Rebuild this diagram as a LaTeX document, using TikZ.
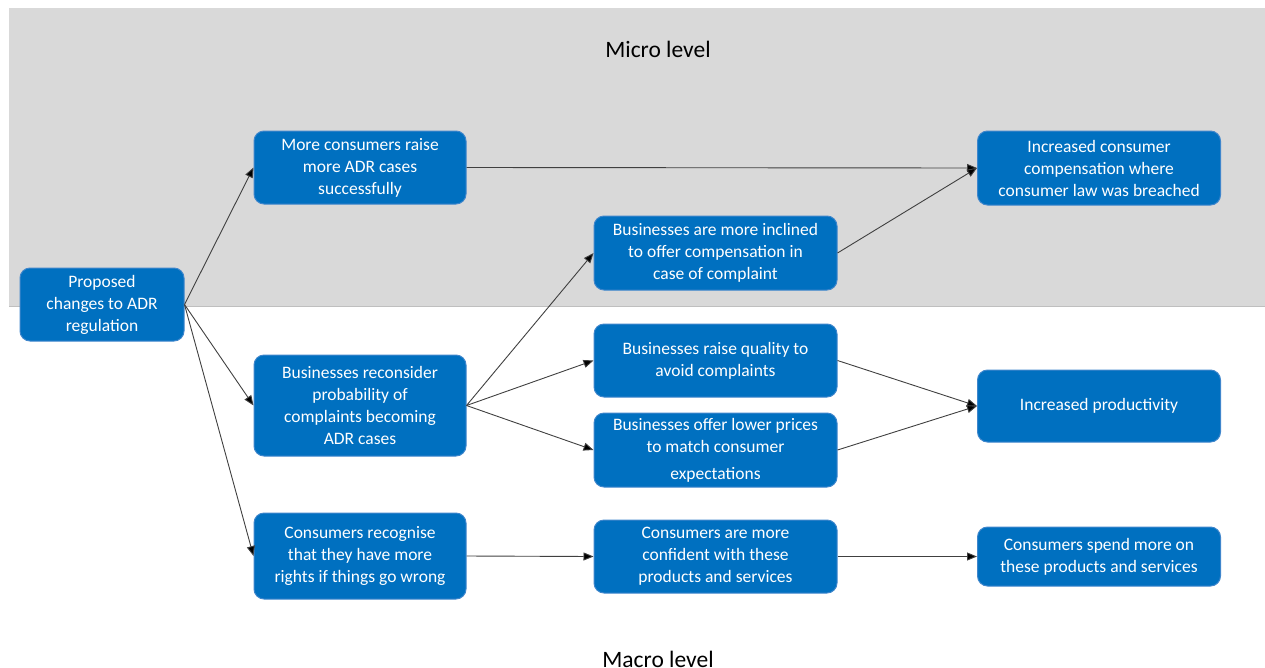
\documentclass[tikz,border=0pt]{standalone}
\usepackage{fontspec}
\setmainfont{Carlito}
\usetikzlibrary{arrows.meta}
\definecolor{boxblue}{HTML}{0070C0}
\definecolor{boxedge}{HTML}{3F86CC}
\definecolor{bggray}{HTML}{D9D9D9}
\definecolor{bgedge}{HTML}{BFBFBF}
\definecolor{linegray}{HTML}{404040}
\tikzset{
  box/.style={draw=boxedge, line width=1pt, fill=boxblue, rounded corners=10pt,
    text=white, align=center, inner sep=0pt,
    font=\fontsize{17.5}{22}\selectfont},
  w212/.style={minimum width=212pt},
  w243/.style={minimum width=243pt},
  w164/.style={minimum width=164pt},
  conn/.style={draw=linegray, line width=0.9pt, -{Triangle[length=10pt,width=8pt,fill=black]}},
  level/.style={font=\fontsize{23.5}{28}\selectfont, text=black}
}
\begin{document}
\begin{tikzpicture}[x=1pt,y=-1pt]
\useasboundingbox (0,0) rectangle (1265,667);
\fill[bggray] (9,8) rectangle (1265,306);
\draw[bgedge, line width=1pt] (9,306) -- (1265,306);
\node[level] (micro) at (658,49) {Micro level};
\node[level] (macro) at (658,659) {Macro level};

\node[box, w164, minimum height=73pt] (A) at (102,304.5) {Proposed\\changes to ADR\\regulation};
\node[box, w212, minimum height=73pt] (B) at (360,167.5) {More consumers raise\\more ADR cases\\successfully};
\node[box, w212, minimum height=101pt] (C) at (360,405.5) {Businesses reconsider\\probability of\\complaints becoming\\ADR cases};
\node[box, w212, minimum height=86pt] (D) at (360,556) {Consumers recognise\\that they have more\\rights if things go wrong};
\node[box, w243, minimum height=74pt] (E) at (715.5,253) {Businesses are more inclined\\to offer compensation in\\case of complaint};
\node[box, w243, minimum height=73pt] (F) at (715.5,360.5) {Businesses raise quality to\\avoid complaints};
\node[box, w243, minimum height=74pt] (G) at (715.5,450) {Businesses offer lower prices\\to match consumer\\[5pt]expectations};
\node[box, w243, minimum height=73pt] (H) at (715.5,556.5) {Consumers are more\\confident with these\\products and services};
\node[box, w243, minimum height=74pt] (I) at (1099,168) {Increased consumer\\compensation where\\consumer law was breached};
\node[box, w243, minimum height=72pt] (J) at (1099,406) {Increased productivity};
\node[box, w243, minimum height=59pt] (K) at (1099,556.5) {Consumers spend more on\\these products and services};

\draw[conn] (A.east) -- (B.west);
\draw[conn] (A.east) -- (C.west);
\draw[conn] (A.east) -- (D.west);
\draw[conn] (B.east) -- (I.west);
\draw[conn] (E.east) -- (I.west);
\draw[conn] (C.east) -- (E.west);
\draw[conn] (C.east) -- (F.west);
\draw[conn] (C.east) -- (G.west);
\draw[conn] (F.east) -- (J.west);
\draw[conn] (G.east) -- (J.west);
\draw[conn] (D.east) -- (H.west);
\draw[conn] (H.east) -- (K.west);
\end{tikzpicture}
\end{document}
